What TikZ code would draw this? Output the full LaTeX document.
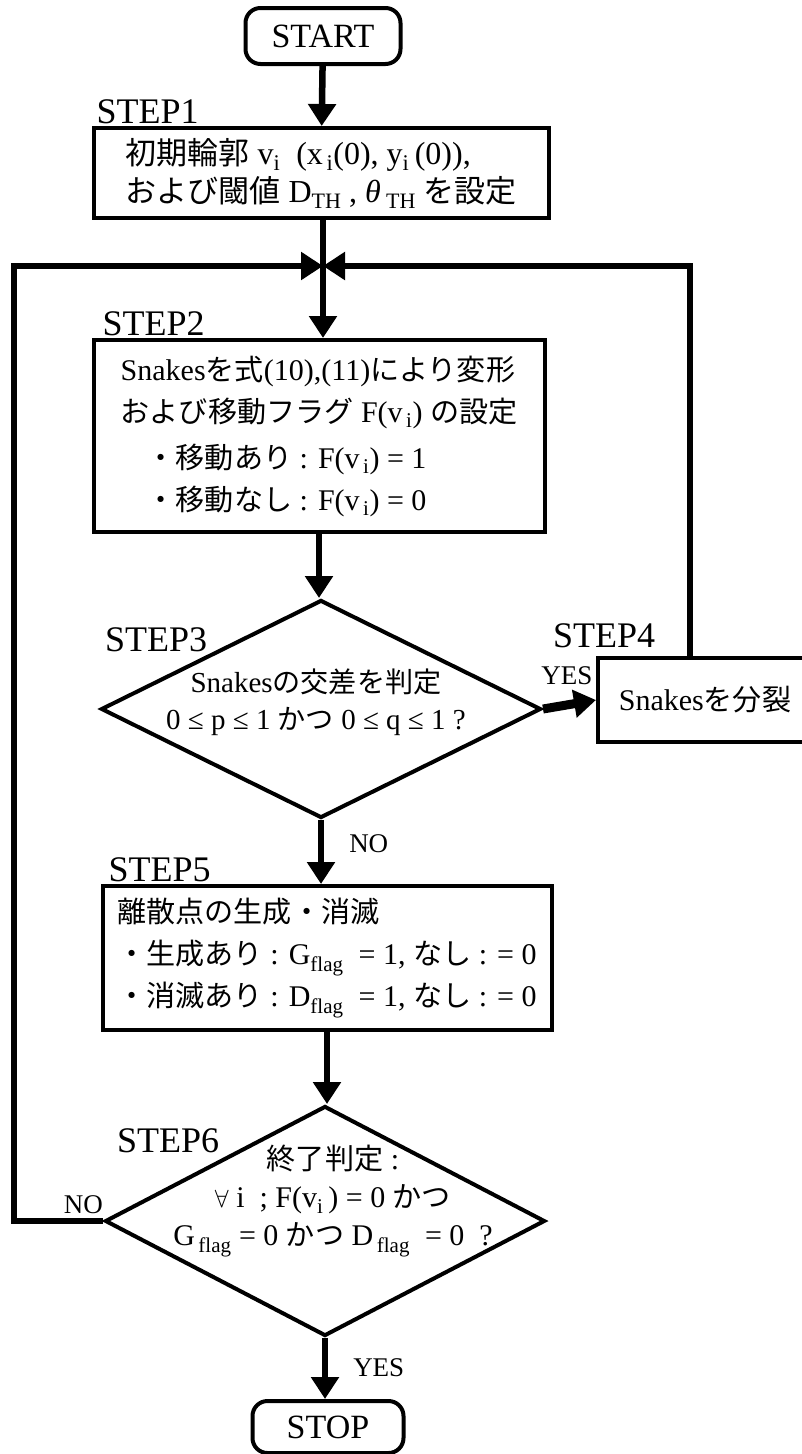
\documentclass[tikz,border=0pt]{standalone}
\usepackage{fontspec}
\setmainfont{Liberation Serif}
\newfontfamily\jfont[Scale=0.97]{Noto Sans CJK JP}
\newcommand{\ja}[1]{{\jfont #1}}
\newcommand{\lo}[1]{\textsubscript{#1}}
\newcommand{\lobig}[1]{\raisebox{-6pt}{\fontsize{22}{22}\selectfont #1}}
\usetikzlibrary{arrows.meta,positioning,shapes.geometric}

\tikzset{
  proc/.style={draw, line width=4pt, rectangle, align=left, inner sep=0pt,
    font=\fontsize{30}{42}\selectfont},
  term/.style={draw, line width=4pt, rounded corners=15pt, inner sep=0pt,
    font=\fontsize{34}{40}\selectfont},
  decide/.style={draw, line width=4pt, diamond, inner sep=0pt},
  dtext/.style={align=center, inner sep=0pt},
  steplbl/.style={inner sep=0pt, font=\fontsize{36}{40}\selectfont},
  yn/.style={inner sep=0pt, font=\fontsize{27}{30}\selectfont},
  flow/.style={line width=6.5pt, -{Triangle[length=22pt,width=27pt]}},
}

\begin{document}
\begin{tikzpicture}[x=1pt, y=-1pt]
    \useasboundingbox (0,0) rectangle (801,1454);

    % boxes
    \node[term, minimum width=155pt, minimum height=56pt] (start) at (323,36) {START};
    \node[proc, font=\fontsize{32}{38}\selectfont, minimum width=455pt, minimum height=90pt] (s1) at (321,173)
        {\ja{初期輪郭} v\lo{i}\ \ (x\lo{\,i}(0), y\lo{i}\,(0)),\\
         \ja{および閾値} D\lobig{TH} , \textit{θ}\,\lobig{TH} \ja{を設定}};
    \node[proc, minimum width=451pt, minimum height=192pt] (s2) at (319,436)
        {Snakes\ja{を式}(10),(11)\ja{により変形}\\
         \ja{および移動フラグ} F(v\lo{\,i}) \ja{の設定}\\[4pt]
         \hspace*{26pt}\ja{・移動あり} : F(v\lo{\,i}) = 1\\
         \hspace*{26pt}\ja{・移動なし} : F(v\lo{\,i}) = 0};
    \node[decide, minimum width=440pt, minimum height=218pt,
        label={[dtext, font=\fontsize{29}{37}\selectfont, yshift=7pt, xshift=-5pt]center:{Snakes\ja{の交差を判定}\\
        0 ≤ p ≤ 1 \ja{かつ} 0 ≤ q ≤ 1 ?}}] (s3) at (321,709) {};
    \node[proc, align=center, minimum width=214pt, minimum height=84pt] (s4) at (705,700)
        {Snakes\ja{を分裂}};
    \node[proc, minimum width=449pt, minimum height=144pt] (s5) at (327,958)
        {\ja{離散点の生成・消滅}\\
         \ja{・生成あり} : G\lo{flag}\ \ = 1, \ja{なし} : = 0\\
         \ja{・消滅あり} : D\lo{flag}\ \ = 1,\ \ja{なし} : = 0};
    \node[decide, minimum width=440pt, minimum height=230pt,
        label={[dtext, font=\fontsize{30}{38}\selectfont, yshift=20pt, xshift=8pt]center:{\ja{終了判定} :\\
        $\forall$ i\ \ ; F(v\lo{i}\,) = 0 \ja{かつ}\\
        G\lo{\,flag} = 0 \ja{かつ} D\lo{\,flag}\ \ = 0\ \ ?}}] (s6) at (325,1221) {};
    \node[term, minimum width=151pt, minimum height=52pt] (stop) at (328,1427) {STOP};

    % step names
    \node[steplbl, above right=2pt and 5pt of s1.north west] (n1) {STEP1};
    \node[steplbl, above right=2pt and 11pt of s2.north west] (n2) {STEP2};
    \node[steplbl, above right=57pt and 6pt of s3.west] (n3) {STEP3};
    \node[steplbl, above right=8pt and -43pt of s4.north west] (n4) {STEP4};
    \node[steplbl, above right=2pt and 8pt of s5.north west] (n5) {STEP5};
    \node[steplbl, above right=68pt and 14pt of s6.west] (n6) {STEP6};

    % loop-back points
    \coordinate (join) at (323,266);
    \coordinate (loopL) at (14,266);
    \coordinate (loopR) at (690,266);

    % flow
    \draw[flow] (start) -- (s1);
    \draw[flow] (s1.south -| join) -- (s2.north -| join);
    \draw[flow] (s2.south) -- (s2.south |- s3.north);
    \draw[flow, line width=9pt] (s3.east) -- node[yn, pos=0.45, above=16pt] (y1) {YES} (s4.west);
    \draw[flow] (s3.south) -- node[yn, pos=0.37, right=25pt] (no1) {NO} (s3.south |- s5.north);
    \draw[flow] (s5.south) -- (s5.south |- s6.north);
    \draw[flow] (s6.south) -- node[yn, pos=0.48, right=25pt] (y2) {YES} (s6.south |- stop.north);
    \draw[flow] (s6.west) -- node[yn, pos=0.22, above=4pt] (no2) {NO} (s6.west -| loopL) -- (loopL) -- (join);
    \draw[flow] (s4.north -| loopR) -- (loopR) -- (join);
\end{tikzpicture}
\end{document}
